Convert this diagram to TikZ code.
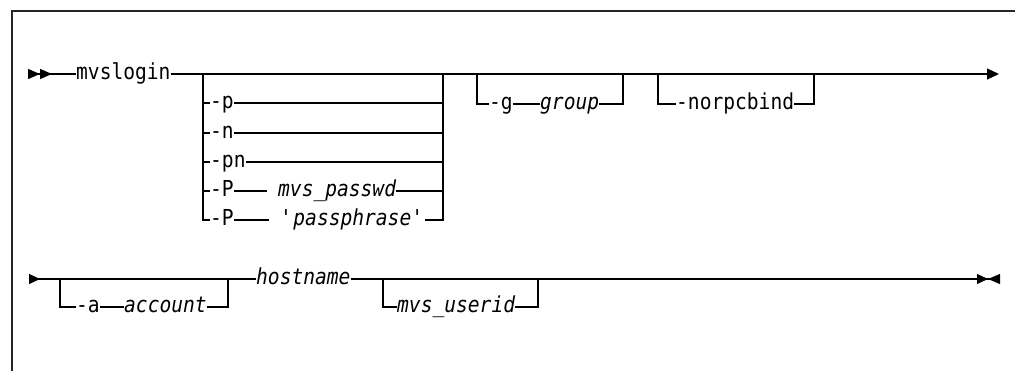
\documentclass[tikz,border=0pt]{standalone}
\usepackage{fontspec}
\setmainfont{DejaVu Sans Mono}[FakeStretch=0.89]
\usetikzlibrary{arrows.meta}
\tikzstyle{keyword} = [inner sep=0pt,
anchor=west,
text height=12pt,
text depth=0pt,
font=\fontsize{22}{26}\selectfont]
\tikzstyle{param} = [keyword,
font=\fontsize{22}{26}\selectfont\itshape]
\tikzstyle{rail} = [line width=1.1pt, draw=black]
\tikzstyle{frame} = [line width=1.2pt, draw=black!85]
\tikzstyle{dblstart} = [rail,
{Triangle[reversed,length=12pt,width=10pt]Triangle[reversed,length=12pt,width=10pt]}-]
\tikzstyle{rowstart} = [rail, {Triangle[reversed,length=11pt,width=10pt]}-]
\tikzstyle{rowcont} = [rail, -{Triangle[length=12pt,width=11pt]}]
\tikzstyle{rowend} = [rail,
-{Triangle[length=11pt,width=10pt]Triangle[reversed,length=12pt,width=10pt]}]

\begin{document}
\begin{tikzpicture}[x=1pt, y=-1pt]
\useasboundingbox (0,0) rectangle (1015,371);

\coordinate (frameend) at (1015,11);
\coordinate (framecorner) at (12,11);
\coordinate (framebottom) at (12,371);
\draw [frame] (frameend) -- (framecorner) -- (framebottom);

\coordinate (begin) at (28,74);
\node (cmd) [keyword] at (76,74) {mvslogin};
\coordinate (cont) at (999,74);
\draw [dblstart] (begin) -- (cmd.west);
\draw [rowcont] (cmd.east) -- (cont);

\coordinate (g1l) at (203,74);
\coordinate (g1r) at (443,74);
\node (optp) [keyword] at (210,103) {-p};
\node (optn) [keyword] at (210,133) {-n};
\node (optpn) [keyword] at (210,162) {-pn};
\node (optPw) [keyword] at (210,191) {-P};
\node (passwd) [param] at (278,191) {mvs\_passwd};
\node (optPp) [keyword] at (210,220) {-P};
\node (phrase) [param] at (280,220) {\textquotesingle passphrase\textquotesingle};
\draw [rail] (g1l) |- (optp.west);
\draw [rail] (optp.east) -| (g1r);
\draw [rail] (g1l) |- (optn.west);
\draw [rail] (optn.east) -| (g1r);
\draw [rail] (g1l) |- (optpn.west);
\draw [rail] (optpn.east) -| (g1r);
\draw [rail] (g1l) |- (optPw.west);
\draw [rail, shorten >=11pt] (optPw.east) -- (passwd.west);
\draw [rail] (passwd.east) -| (g1r);
\draw [rail] (g1l) |- (optPp.west);
\draw [rail, shorten >=11pt] (optPp.east) -- (phrase.west);
\draw [rail] (phrase.east) -| (g1r);

\coordinate (g2l) at (477,74);
\coordinate (g2r) at (623,74);
\node (optg) [keyword] at (489,104) {-g};
\node (group) [param] at (540,104) {group};
\draw [rail] (g2l) |- (optg.west);
\draw [rail] (optg.east) -- (group.west);
\draw [rail] (group.east) -| (g2r);

\coordinate (g3l) at (658,74);
\coordinate (g3r) at (814,74);
\node (optnorpc) [keyword] at (676,104) {-norpcbind};
\draw [rail] (g3l) |- (optnorpc.west);
\draw [rail] (optnorpc.east) -| (g3r);

\coordinate (again) at (29,279);
\node (host) [param] at (256,279) {hostname};
\coordinate (stop) at (1000,279);
\draw [rowstart] (again) -- (host.west);
\draw [rowend] (host.east) -- (stop);

\coordinate (gal) at (60,279);
\coordinate (gar) at (228,279);
\node (opta) [keyword] at (76,307) {-a};
\node (account) [param] at (124,307) {account};
\draw [rail] (gal) |- (opta.west);
\draw [rail] (opta.east) -- (account.west);
\draw [rail] (account.east) -| (gar);

\coordinate (gul) at (383,279);
\coordinate (gur) at (538,279);
\node (userid) [param] at (397,307) {mvs\_userid};
\draw [rail] (gul) |- (userid.west);
\draw [rail] (userid.east) -| (gur);
\end{tikzpicture}
\end{document}
